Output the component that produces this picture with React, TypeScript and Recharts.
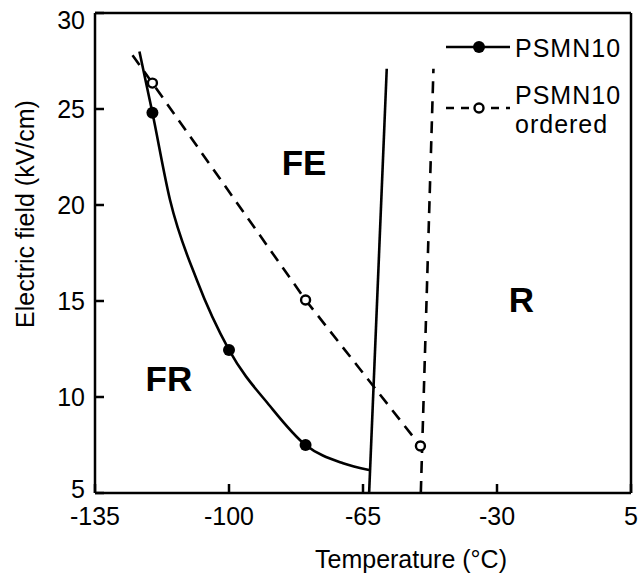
import React from 'react';
import { LineChart, Line, XAxis, YAxis, ReferenceLine, ReferenceDot, Legend } from 'recharts';

const FONT = "'Liberation Sans', Arial, Helvetica, sans-serif";

const X_TICKS = [-135, -100, -65, -30, 5];
const Y_TICKS = [5, 10, 15, 20, 25, 30];

// PSMN10 (solid curve, filled markers where measured)
const PSMN10_T = [-123.4, -120, -115.4, -108.4, -100, -89.3, -80, -70.2, -63.4];
const PSMN10_E = [28.0, 24.8, 20.26, 16.09, 12.45, 9.53, 7.5, 6.55, 6.2];
const PSMN10_MARK = [false, true, false, false, true, false, true, false, false];

// PSMN10 ordered (dashed, open markers)
const ORDERED_T = [-125.2, -120, -80, -50];
const ORDERED_E = [27.8, 26.35, 15.05, 7.45];
const ORDERED_MARK = [false, true, true, true];

// FE / R boundaries
const BOUND_SOLID_T = [-63.4, -58.8];
const BOUND_SOLID_E = [5, 27.1];
const BOUND_DASHED_T = [-49.9, -46.6];
const BOUND_DASHED_E = [5, 27.1];

// region labels
const REGION_LABELS = ['FE', 'FR', 'R'];
const REGION_T = [-80.4, -115.7, -23.6];
const REGION_E = [22.2, 10.97, 15.1];

const LEGEND_LABELS = [['PSMN10'], ['PSMN10', 'ordered']];

const LW = 2.6;

const toPoints = (t: number[], e: number[], m?: boolean[]) =>
  t.map((x, i) => ({ x, y: e[i], m: m ? m[i] : false }));

const psmn10 = toPoints(PSMN10_T, PSMN10_E, PSMN10_MARK);
const ordered = toPoints(ORDERED_T, ORDERED_E, ORDERED_MARK);
const boundSolid = toPoints(BOUND_SOLID_T, BOUND_SOLID_E);
const boundDashed = toPoints(BOUND_DASHED_T, BOUND_DASHED_E);

const FilledDot = (props: any) => {
  const { cx, cy, payload, index } = props;
  if (!payload || !payload.m) return <g key={`f-${index}`} />;
  return <circle key={`f-${index}`} cx={cx} cy={cy} r={6} fill="#000" stroke="none" />;
};

const OpenDot = (props: any) => {
  const { cx, cy, payload, index } = props;
  if (!payload || !payload.m) return <g key={`o-${index}`} />;
  return <circle key={`o-${index}`} cx={cx} cy={cy} r={4.5} fill="#fff" stroke="#000" strokeWidth={2.4} />;
};

const XTick = (props: any) => {
  const { x, y, payload } = props;
  return (
    <g>
      <line x1={x} y1={y} x2={x} y2={y - 9} stroke="#000" strokeWidth={2.5} />
      <text x={x} y={y + 14} dy="0.71em" textAnchor="middle" fontSize={25} fontFamily={FONT} fill="#000">
        {String(payload.value)}
      </text>
    </g>
  );
};

const YTick = (props: any) => {
  const { x, y, payload } = props;
  const v = payload.value;
  const shift = v === Y_TICKS[Y_TICKS.length - 1] ? 7 : v === Y_TICKS[0] ? -4 : 0;
  return (
    <g>
      <line x1={x} y1={y} x2={x + 9} y2={y} stroke="#000" strokeWidth={2.5} />
      <text x={x - 10} y={y + shift} dy="0.355em" textAnchor="end" fontSize={25} fontFamily={FONT} fill="#000">
        {String(v)}
      </text>
    </g>
  );
};

const XTitle = (props: any) => {
  const vb = props.viewBox;
  return (
    <text x={vb.x + vb.width / 2 + 48} y={vb.y + vb.height - 12} textAnchor="middle" fontSize={25} fontFamily={FONT} fill="#000">
      Temperature (°C)
    </text>
  );
};

const YTitle = (props: any) => {
  const vb = props.viewBox;
  const x = vb.x + 34;
  const y = vb.y + vb.height / 2 - 39;
  return (
    <text x={x} y={y} transform={`rotate(-90, ${x}, ${y})`} textAnchor="middle" fontSize={25} fontFamily={FONT} fill="#000">
      Electric field (kV/cm)
    </text>
  );
};

const RegionLabel = (text: string) => (props: any) => {
  const vb = props.viewBox;
  return (
    <text x={vb.x + (vb.width || 0) / 2} y={vb.y + (vb.height || 0) / 2} dy="0.36em" textAnchor="middle" fontSize={35} fontWeight="bold" fontFamily={FONT} fill="#000">
      {text}
    </text>
  );
};

const LegendBox = () => (
  <svg width={200} height={125} style={{ display: 'block', overflow: 'visible' }}>
    <line x1={6} x2={70} y1={27} y2={27} stroke="#000" strokeWidth={LW} />
    <circle cx={39} cy={27} r={6} fill="#000" />
    <text x={75} y={37} fontSize={25} fontFamily={FONT} fill="#000" letterSpacing={1}>
      {LEGEND_LABELS[0][0]}
    </text>
    <line x1={6} x2={70} y1={88} y2={88} stroke="#000" strokeWidth={LW} strokeDasharray="8 7" />
    <circle cx={39} cy={88} r={4.5} fill="#fff" stroke="#000" strokeWidth={2.4} />
    <text x={75} y={84} fontSize={25} fontFamily={FONT} fill="#000" letterSpacing={1}>
      {LEGEND_LABELS[1][0]}
    </text>
    <text x={75} y={113} fontSize={25} fontFamily={FONT} fill="#000" letterSpacing={1}>
      {LEGEND_LABELS[1][1]}
    </text>
  </svg>
);

export default function App() {
  return (
    <div style={{ position: 'absolute', left: 0, top: 0, background: '#fff' }}>
      <LineChart width={641} height={580} margin={{ top: 13, right: 10, bottom: 0, left: 0 }}>
        <XAxis
          type="number"
          dataKey="x"
          domain={[-135, 5]}
          ticks={X_TICKS}
          allowDataOverflow
          height={87}
          tickSize={0}
          tickMargin={0}
          tickLine={false}
          axisLine={{ stroke: '#000', strokeWidth: 2.5 }}
          tick={<XTick />}
          interval={0}
          label={XTitle}
        />
        <YAxis
          type="number"
          dataKey="y"
          domain={[5, 30]}
          ticks={Y_TICKS}
          allowDataOverflow
          width={95}
          tickSize={0}
          tickMargin={0}
          tickLine={false}
          axisLine={{ stroke: '#000', strokeWidth: 2.5 }}
          tick={<YTick />}
          interval={0}
          label={YTitle}
        />
        <ReferenceLine y={30} stroke="#000" strokeWidth={2.5} />
        <ReferenceLine x={5} stroke="#000" strokeWidth={2.5} />
        <Line data={boundSolid} dataKey="y" type="linear" stroke="#000" strokeWidth={LW} dot={false} isAnimationActive={false} legendType="none" />
        <Line data={boundDashed} dataKey="y" type="linear" stroke="#000" strokeWidth={LW} strokeDasharray="12 8" dot={false} isAnimationActive={false} legendType="none" />
        <Line data={ordered} dataKey="y" name="PSMN10 ordered" type="linear" stroke="#000" strokeWidth={LW} strokeDasharray="12 8" dot={OpenDot} activeDot={false} isAnimationActive={false} />
        <Line data={psmn10} dataKey="y" name="PSMN10" type="monotone" stroke="#000" strokeWidth={LW} dot={FilledDot} activeDot={false} isAnimationActive={false} />
        {REGION_LABELS.map((lab, i) => (
          <ReferenceDot key={lab} x={REGION_T[i]} y={REGION_E[i]} r={0} stroke="none" fill="none" label={RegionLabel(lab)} />
        ))}
        <Legend
          layout="vertical"
          align="center"
          verticalAlign="middle"
          content={LegendBox}
          wrapperStyle={{ left: 440, top: 20, width: 200, height: 125 }}
        />
      </LineChart>
    </div>
  );
}
